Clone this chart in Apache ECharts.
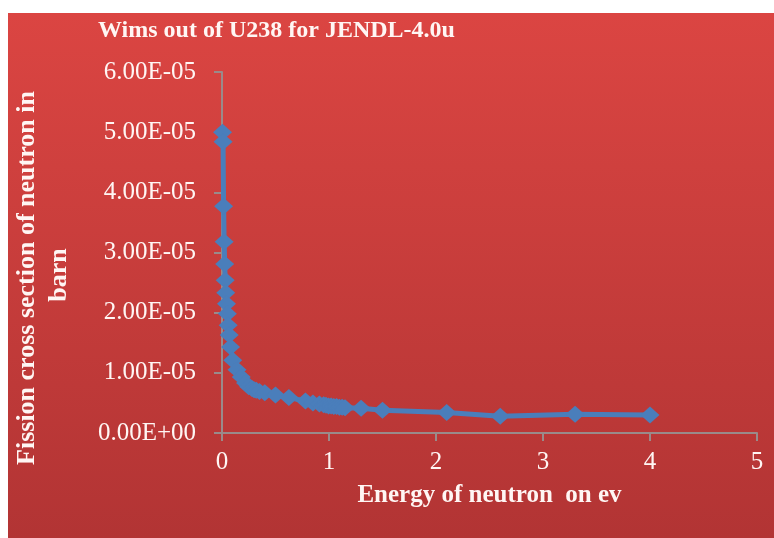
<!DOCTYPE html>
<html>
<head>
<meta charset="utf-8">
<script src="https://cdn.jsdelivr.net/npm/echarts@6/dist/echarts.min.js"></script>
<style>
  html, body { margin: 0; padding: 0; background: #fff; }
  #chart { width: 774px; height: 538px; }
</style>
</head>
<body>
<div id="chart"></div>
<script>
// neutron energy (eV)
const energy = [0.005, 0.01, 0.015, 0.02, 0.025, 0.03, 0.035, 0.042, 0.05, 0.058,
  0.067, 0.08, 0.1, 0.14, 0.18, 0.22, 0.25, 0.28, 0.3, 0.32, 0.35, 0.4, 0.5, 0.625,
  0.78, 0.85, 0.91, 0.95, 0.972, 0.996, 1.02, 1.045, 1.071, 1.097, 1.123, 1.15,
  1.3, 1.5, 2.1, 2.6, 3.3, 4.0];
// fission cross section (barn)
const crossSection = [5.0e-5, 4.84e-5, 3.77e-5, 3.18e-5, 2.81e-5, 2.54e-5, 2.33e-5, 2.15e-5, 1.98e-5, 1.79e-5,
  1.63e-5, 1.43e-5, 1.21e-5, 1.05e-5, 0.93e-5, 0.83e-5, 0.77e-5, 0.74e-5, 0.72e-5, 0.71e-5, 0.69e-5, 0.67e-5, 0.63e-5, 0.59e-5,
  0.53e-5, 0.5e-5, 0.48e-5, 0.47e-5, 0.46e-5, 0.45e-5, 0.45e-5, 0.44e-5, 0.44e-5, 0.43e-5, 0.43e-5, 0.42e-5,
  0.41e-5, 0.38e-5, 0.34e-5, 0.28e-5, 0.31e-5, 0.30e-5];
const xTicks = [0, 5, 1];
const yTicks = [0, 6e-5, 1e-5];

const serif = '"Liberation Serif", "DejaVu Serif", serif';
const textColor = '#fff6f4';

function sciLabel(v) {
  const s = v.toExponential(2);
  const [m, e] = s.split('e');
  const n = parseInt(e, 10);
  return m + 'E' + (n < 0 ? '-' : '+') + String(Math.abs(n)).padStart(2, '0');
}

const chart = echarts.init(document.getElementById('chart'));
const options = {
  backgroundColor: '#fff',
  animation: false,
  graphic: [
    {
      type: 'rect',
      z: -10,
      shape: { x: 8, y: 13, width: 766, height: 525 },
      style: {
        fill: new echarts.graphic.LinearGradient(0, 0, 0, 1, [
          { offset: 0, color: '#db4542' },
          { offset: 1, color: '#b23434' }
        ])
      }
    },
    {
      type: 'text',
      x: 27,
      y: 278,
      rotation: Math.PI / 2,
      style: {
        text: 'Fission cross section of neutron in',
        font: 'bold 26px ' + serif,
        fill: textColor,
        align: 'center',
        verticalAlign: 'middle'
      }
    },
    {
      type: 'text',
      x: 59,
      y: 275,
      rotation: Math.PI / 2,
      style: {
        text: 'barn',
        font: 'bold 26px ' + serif,
        fill: textColor,
        align: 'center',
        verticalAlign: 'middle'
      }
    }
  ],
  title: {
    text: 'Wims out of U238 for JENDL-4.0u',
    left: 93,
    top: 14,
    textStyle: {
      color: textColor,
      fontFamily: serif,
      fontWeight: 'bold',
      fontSize: 24
    }
  },
  grid: {
    left: 222,
    right: 17,
    top: 72,
    bottom: 105
  },
  xAxis: {
    type: 'value',
    min: xTicks[0],
    max: xTicks[1],
    interval: xTicks[2],
    name: 'Energy of neutron  on ev',
    nameLocation: 'middle',
    nameGap: 50,
    nameTextStyle: {
      color: textColor,
      fontFamily: serif,
      fontWeight: 'bold',
      fontSize: 25
    },
    axisLine: { lineStyle: { color: '#9a8a8a', width: 2 } },
    axisTick: { length: 8, lineStyle: { color: '#9a8a8a', width: 2 } },
    axisLabel: {
      color: textColor,
      fontFamily: serif,
      fontSize: 25,
      margin: 17
    },
    splitLine: { show: false }
  },
  yAxis: {
    type: 'value',
    min: yTicks[0],
    max: yTicks[1],
    interval: yTicks[2],
    axisLine: { show: true, lineStyle: { color: '#9a8a8a', width: 2 } },
    axisTick: { show: true, length: 8, lineStyle: { color: '#9a8a8a', width: 2 } },
    axisLabel: {
      color: textColor,
      fontFamily: serif,
      fontSize: 25,
      margin: 26,
      formatter: sciLabel
    },
    splitLine: { show: false }
  },
  series: [
    {
      type: 'line',
      data: energy.map((e, i) => [e, crossSection[i]]),
      symbol: 'diamond',
      symbolSize: [19, 17],
      itemStyle: { color: '#4a7ebb' },
      lineStyle: { color: '#4a7ebb', width: 5 }
    }
  ]
};
chart.setOption(options);
</script>
</body>
</html>
